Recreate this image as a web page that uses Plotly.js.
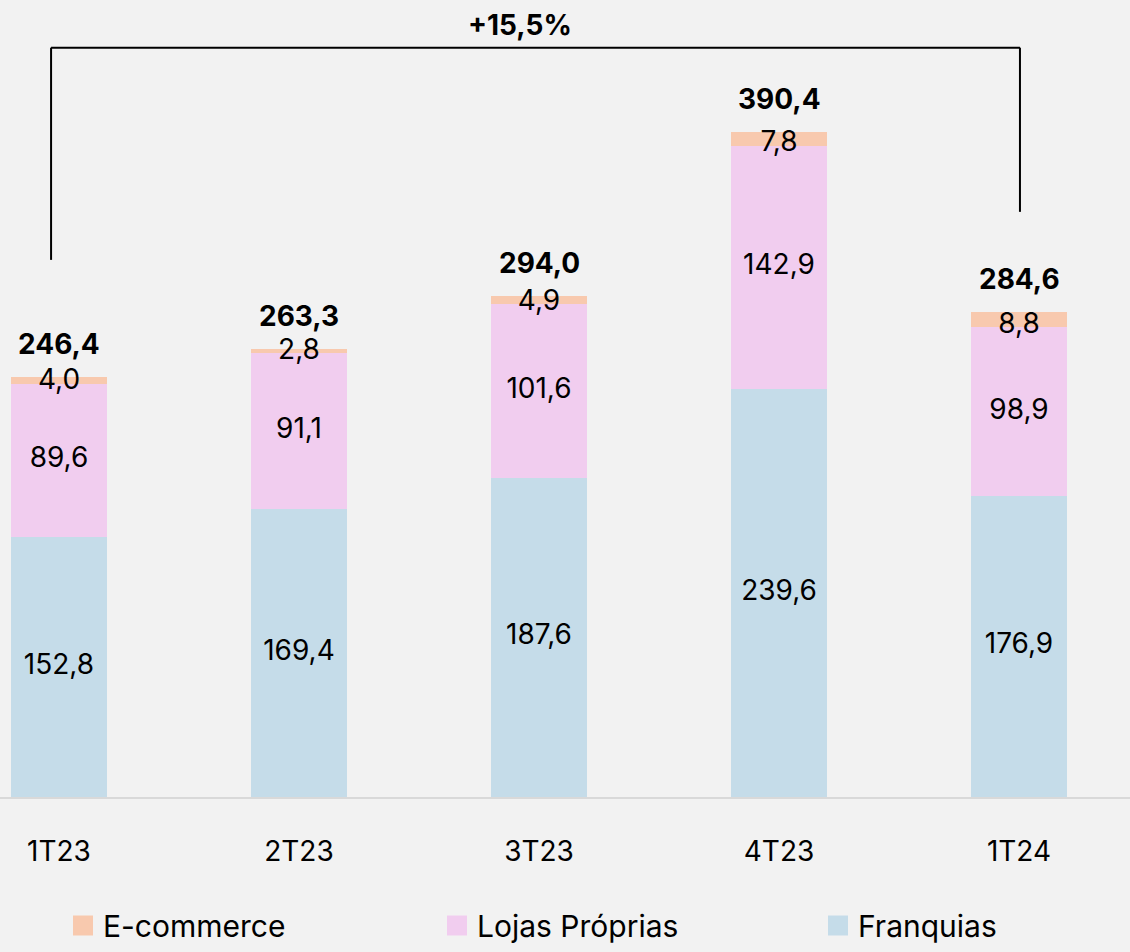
<!DOCTYPE html>
<html>
<head>
<meta charset="utf-8">
<script src="https://cdn.plot.ly/plotly-3.0.1.min.js"></script>
<style>
  html, body { margin: 0; padding: 0; background: #f2f2f2; }
  #chart { width: 1130px; height: 952px; }
</style>
</head>
<body>
<div id="chart"></div>
<script>
const quarters = ['1T23', '2T23', '3T23', '4T23', '1T24'];
const franquias = [152.8, 169.4, 187.6, 239.6, 176.9];
const lojasProprias = [89.6, 91.1, 101.6, 142.9, 98.9];
const ecommerce = [4.0, 2.8, 4.9, 7.8, 8.8];
const totals = [246.4, 263.3, 294.0, 390.4, 284.6];
const growthLabel = '+15,5%';

const seriesNames = ['E-commerce', 'Lojas Próprias', 'Franquias'];
const seriesColors = ['#f8c9ae', '#f1cdef', '#c5dce9'];

const FONT = 'Inter, "Open Sans", sans-serif';
const fmt = v => v.toFixed(1).replace('.', ',');

function barTrace(name, values, color) {
    return {
        type: 'bar',
        name: name,
        x: quarters,
        y: values,
        width: 0.4,
        marker: {color: color, line: {width: 0}},
        showlegend: false,
        hoverinfo: 'skip'
    };
}

// segment labels, centred in each segment (e-commerce sits near its base)
const midFranq = franquias.map(v => v / 2);
const midLojas = franquias.map((v, i) => v + lojasProprias[i] / 2);
const posEcom = franquias.map((v, i) => v + lojasProprias[i] + 1);

function labelTrace(yvals, values) {
    return {
        type: 'scatter',
        mode: 'text',
        x: quarters,
        y: yvals,
        text: values.map(fmt),
        textposition: 'middle center',
        textfont: {family: FONT, size: 28, color: '#000'},
        showlegend: false,
        hoverinfo: 'skip'
    };
}

// legend-only entries, one legend each so they can sit apart
const legendKeys = ['legend', 'legend2', 'legend3'];
const legendTraces = seriesNames.map((n, i) => ({
    type: 'scatter',
    mode: 'markers',
    name: n,
    x: [null],
    y: [null],
    marker: {symbol: 'square', size: 22, color: seriesColors[i], line: {color: seriesColors[i], width: 4}},
    legend: legendKeys[i],
    showlegend: true,
    hoverinfo: 'skip'
}));

const data = [
    barTrace('Franquias', franquias, seriesColors[2]),
    barTrace('Lojas Próprias', lojasProprias, seriesColors[1]),
    barTrace('E-commerce', ecommerce, seriesColors[0]),
    labelTrace(midFranq, franquias),
    labelTrace(midLojas, lojasProprias),
    labelTrace(posEcom, ecommerce)
].concat(legendTraces);

const totalNotes = totals.map((t, i) => ({
    x: quarters[i],
    y: t,
    xref: 'x', yref: 'y',
    text: '<b>' + fmt(t) + '</b>',
    showarrow: false,
    yanchor: 'bottom',
    yshift: 14,
    font: {family: FONT, size: 28, color: '#000'}
}));

// bracket from first to last quarter
const bracketTop = 440;
const leftEnd = totals[0] + 69;
const rightEnd = totals[4] + 59;
const shapes = [
    {type: 'line', xref: 'x', yref: 'y', x0: -0.033, x1: -0.033, y0: leftEnd, y1: bracketTop, line: {color: '#000', width: 2}},
    {type: 'line', xref: 'x', yref: 'y', x0: -0.033, x1: 4.004, y0: bracketTop, y1: bracketTop, line: {color: '#000', width: 2}},
    {type: 'line', xref: 'x', yref: 'y', x0: 4.004, x1: 4.004, y0: bracketTop, y1: rightEnd, line: {color: '#000', width: 2}}
];

function legendBox(xpx) {
    return {
        orientation: 'h',
        itemsizing: 'trace',
        x: xpx / 1130,
        xanchor: 'left',
        y: -0.194,
        yanchor: 'bottom',
        font: {family: FONT, size: 30, color: '#000'},
        bgcolor: 'rgba(0,0,0,0)'
    };
}

const layout = {
    width: 1130,
    height: 952,
    margin: {l: 0, r: 0, t: 0, b: 155, autoexpand: false},
    paper_bgcolor: '#f2f2f2',
    plot_bgcolor: '#f2f2f2',
    barmode: 'stack',
    font: {family: FONT, size: 28, color: '#000'},
    xaxis: {
        type: 'category',
        range: [-0.2458, 4.4625],
        showline: true,
        linecolor: '#d9d9d9',
        linewidth: 2,
        ticks: '',
        ticklabelstandoff: 28,
        tickfont: {family: FONT, size: 28, color: '#000'},
        showgrid: false,
        zeroline: false
    },
    yaxis: {
        range: [0, 468],
        visible: false,
        showgrid: false,
        zeroline: false
    },
    legend: legendBox(63),
    legend2: legendBox(437),
    legend3: legendBox(818),
    shapes: shapes,
    annotations: totalNotes.concat([{
        x: 1.92,
        y: bracketTop,
        xref: 'x', yref: 'y',
        text: '<b>' + growthLabel + '</b>',
        showarrow: false,
        yanchor: 'bottom',
        yshift: 4,
        font: {family: FONT, size: 28, color: '#000'}
    }])
};

Plotly.newPlot('chart', data, layout, {displayModeBar: false, staticPlot: true});
</script>
</body>
</html>
